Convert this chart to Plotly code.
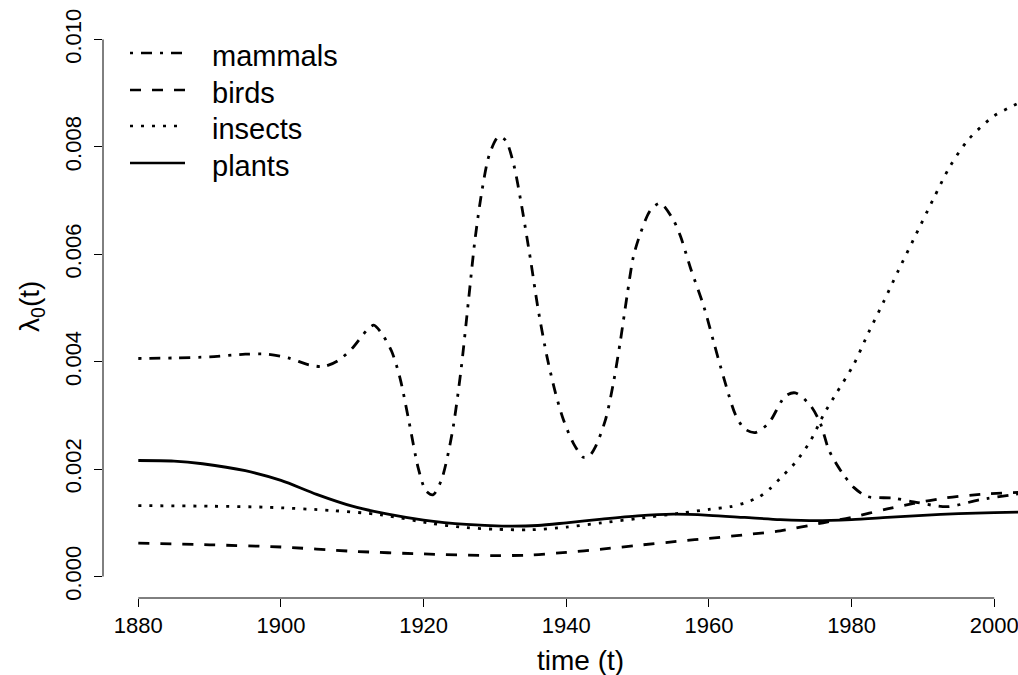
import plotly.graph_objects as go

# ---------------- data ----------------
mammals_t = [1880, 1885, 1890, 1895, 1898, 1901, 1904, 1906, 1908, 1910, 1912, 1913, 1914,
             1915.5, 1916.7, 1917.9, 1919.3, 1920.3, 1921.3, 1922.5, 1924.0, 1925.2, 1926.3,
             1927.2, 1928.2, 1929.2, 1930.5, 1931.5, 1932.6, 1933.6, 1935.0, 1936.0, 1937.3,
             1938.5, 1939.6, 1941.0, 1942.4, 1943.2, 1944.1, 1945.5, 1946.6, 1947.6, 1948.5,
             1949.4, 1950.4, 1951.8, 1953.2, 1955.0, 1956.0, 1957.4, 1959.3, 1960.7, 1962.1,
             1963.7, 1965.0, 1966.5, 1968.4, 1970.7, 1972.1, 1974.2, 1975.6, 1976.8, 1977.9,
             1978.9, 1980.3, 1982.2, 1985.9, 1988.7, 1993.4, 1998.0, 2004]
mammals_v = [0.00406, 0.00407, 0.00409, 0.00414, 0.00414, 0.00407, 0.00394, 0.00391, 0.00402,
             0.00425, 0.00458, 0.00468, 0.00455, 0.00420, 0.00369, 0.00292, 0.00199, 0.00160,
             0.00152, 0.00180, 0.00267, 0.00380, 0.00515, 0.00627, 0.00720, 0.00785, 0.00819,
             0.00812, 0.00769, 0.00701, 0.00589, 0.00502, 0.00409, 0.00341, 0.00292, 0.00248,
             0.00222, 0.00224, 0.00242, 0.00292, 0.00360, 0.00440, 0.00521, 0.00595, 0.00639,
             0.00682, 0.00695, 0.00664, 0.00634, 0.00575, 0.00502, 0.00435, 0.00369, 0.00302,
             0.00275, 0.00268, 0.00286, 0.00336, 0.00342, 0.00319, 0.00286, 0.00236, 0.00209,
             0.00189, 0.00166, 0.00149, 0.00146, 0.00139, 0.00130, 0.00143, 0.00155]

birds_t = [1880, 1890, 1900, 1910, 1920, 1930, 1935, 1940, 1945, 1950, 1956, 1960, 1966,
           1970, 1976, 1980, 1985, 1988.7, 1993, 1998, 2004]
birds_v = [0.00062, 0.00059, 0.00055, 0.00047, 0.00042, 0.00039, 0.00040, 0.00045, 0.00051,
           0.00058, 0.00066, 0.00071, 0.00079, 0.00085, 0.00100, 0.00110, 0.00126, 0.00136,
           0.00146, 0.00153, 0.00157]

insects_t = [1880, 1890, 1898, 1907, 1914, 1921, 1926, 1930, 1935, 1940, 1945, 1950, 1956,
             1960, 1963, 1965, 1967, 1968.5, 1970, 1972.1, 1974.2, 1976.1, 1977.9, 1980.3,
             1982.4, 1984.5, 1986.6, 1988.7, 1991.5, 1993.8, 1996.4, 1999.9, 2002.7, 2004]
insects_v = [0.00132, 0.00131, 0.00129, 0.00123, 0.00115, 0.00099, 0.00091, 0.00088, 0.00087,
             0.00092, 0.00100, 0.00108, 0.00118, 0.00125, 0.00130, 0.00137, 0.00148, 0.00163,
             0.00183, 0.00212, 0.00252, 0.00302, 0.00342, 0.00395, 0.00455, 0.00512, 0.00571,
             0.00628, 0.00704, 0.00764, 0.00814, 0.00857, 0.00877, 0.00885]

plants_t = [1880, 1885, 1889, 1895, 1900, 1905, 1910, 1915, 1920, 1926, 1931, 1936, 1940,
            1945, 1950, 1955, 1960, 1965, 1970, 1975, 1980, 1985, 1990, 1995, 2000, 2004]
plants_v = [0.00216, 0.00215, 0.00210, 0.00197, 0.00179, 0.00153, 0.00131, 0.00116, 0.00105,
            0.00097, 0.00094, 0.00095, 0.00100, 0.00107, 0.00113, 0.00116, 0.00114, 0.00110,
            0.00106, 0.00104, 0.00106, 0.00110, 0.00114, 0.00117, 0.00119, 0.00120]

series_names = ["mammals", "birds", "insects", "plants"]
x_ticks = [1880, 1900, 1920, 1940, 1960, 1980, 2000]
y_ticks = [0.000, 0.002, 0.004, 0.006, 0.008, 0.010]
y_ticklabels = ["0.000", "0.002", "0.004", "0.006", "0.008", "0.010"]

# ---------------- figure ----------------
W, H = 1018, 675
ML, MR, MT, MB = 103, 0, 18, 77
PW, PH = W - ML - MR, H - MT - MB

dashes = {
    "mammals": "3px,8px,11px,8px",
    "birds": "11px,11px",
    "insects": "3px,8px",
    "plants": "solid",
}
data = {
    "mammals": (mammals_t, mammals_v),
    "birds": (birds_t, birds_v),
    "insects": (insects_t, insects_v),
    "plants": (plants_t, plants_v),
}

fig = go.Figure()
for name in series_names:
    t, v = data[name]
    fig.add_trace(go.Scatter(
        x=t, y=v, mode="lines", name=name, showlegend=False,
        line=dict(color="black", width=2.8, dash=dashes[name], shape="spline", smoothing=0.8),
        hoverinfo="skip",
    ))

FONT = "Liberation Sans, Arial, Helvetica, sans-serif"

# axis ranges reproducing R's 4% extension
px_per_year = 7.133
x0 = 1880 - (138.3 - ML) / px_per_year
x1 = x0 + PW / px_per_year
x_center = x0 + (1058 - ML) / 2 / px_per_year   # centre of the (cropped) R plot region

fig.update_xaxes(
    range=[x0, x1], tickvals=x_ticks, ticks="outside", ticklen=8, tickwidth=1,
    tickcolor="black", showline=False, showgrid=False, zeroline=False,
    ticklabeloverflow="allow",
    tickfont=dict(family=FONT, size=22, color="black"),
)
fig.update_yaxes(
    range=[-0.0004, 0.0104], tickvals=y_ticks, ticktext=y_ticklabels, tickangle=-90,
    ticks="outside", ticklen=8, tickwidth=1, tickcolor="black", showline=False,
    showgrid=False, zeroline=False, ticklabelstandoff=4,
    tickfont=dict(family=FONT, size=22, color="black"),
)

shapes = [
    # R-style axis lines spanning only the tick range
    dict(type="line", xref="paper", yref="y", x0=0, x1=0, y0=y_ticks[0], y1=y_ticks[-1],
         line=dict(color="black", width=1)),
    dict(type="line", xref="x", yref="paper", x0=x_ticks[0], x1=x_ticks[-1], y0=0, y1=0,
         line=dict(color="black", width=1)),
]

annotations = [
    dict(text="time (t)", xref="x", yref="paper", x=x_center, y=(MT + PH - 660) / PH,
         xanchor="center", yanchor="middle", showarrow=False,
         font=dict(family=FONT, size=28, color="black")),
    dict(text="λ<sub>0</sub>(t)", xref="paper", yref="paper", x=(31 - ML) / PW,
         y=(MT + PH - 307) / PH, xanchor="center", yanchor="middle", textangle=-90,
         showarrow=False, font=dict(family=FONT, size=28, color="black")),
]

# legend drawn R-style (long line samples)
leg_rows = [53, 90, 126, 163]
for name, ypx in zip(series_names, leg_rows):
    yp = (MT + PH - ypx) / PH
    shapes.append(dict(type="line", xref="paper", yref="paper",
                       x0=(130 - ML) / PW, x1=(185 - ML) / PW, y0=yp, y1=yp,
                       line=dict(color="black", width=2.4, dash=dashes[name])))
    annotations.append(dict(text=name, xref="paper", yref="paper", x=(210 - ML) / PW,
                            y=(MT + PH - (ypx + 3)) / PH, xanchor="left", yanchor="middle",
                            showarrow=False, font=dict(family=FONT, size=29, color="black")))

fig.update_layout(
    width=W, height=H, margin=dict(l=ML, r=MR, t=MT, b=MB, pad=0),
    paper_bgcolor="white", plot_bgcolor="white", shapes=shapes, annotations=annotations,
    showlegend=False,
)

fig.write_html("out.html", config={"displayModeBar": False},
               post_script="document.body.style.margin='0';document.body.style.overflow='hidden';")
